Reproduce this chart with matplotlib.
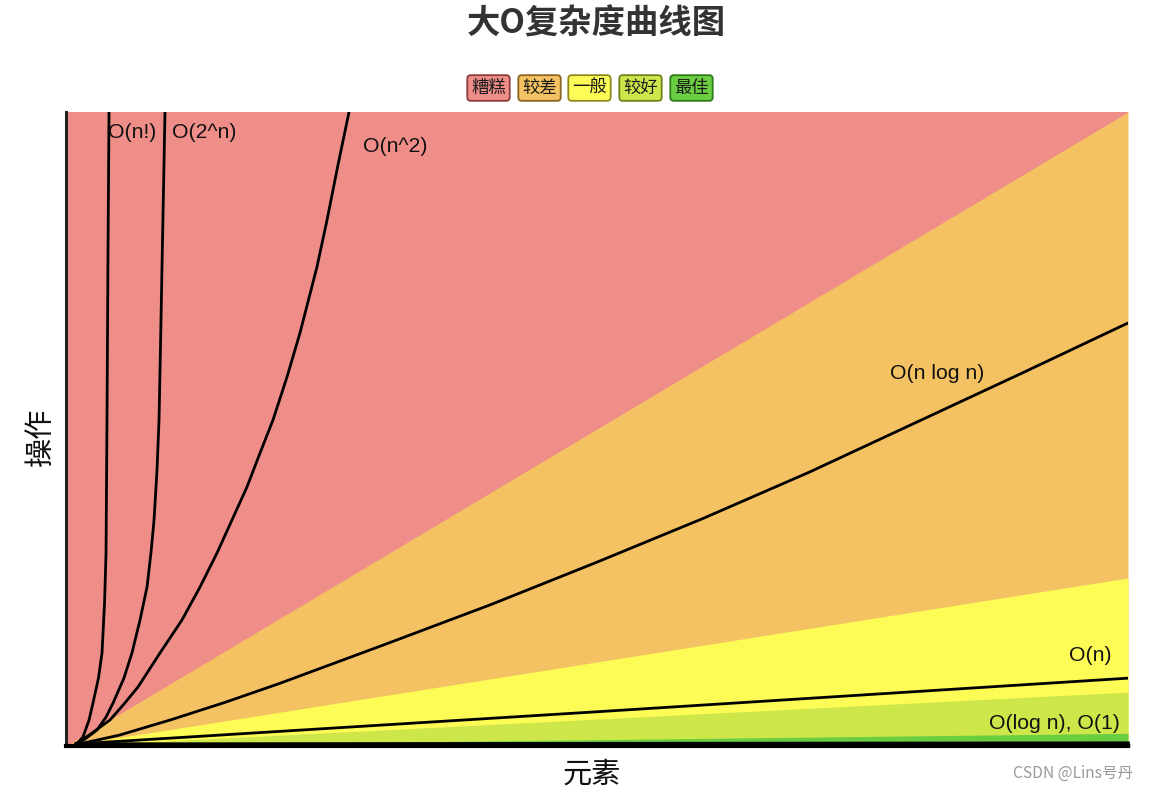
import matplotlib
matplotlib.use("Agg")
import matplotlib.pyplot as plt

plt.rcParams['font.family'] = ['Noto Sans CJK SC', 'DejaVu Sans']

# ---------------- data (axes in % of range) ----------------
title = "大O复杂度曲线图"
x_label = "元素"
y_label = "操作"

legend_labels = ["糟糕", "较差", "一般", "较好", "最佳"]
zone_colors = ["#EF8E89", "#F4C262", "#FDFC56", "#CDE74B", "#6ACE40"]
zone_edges = ["#8C3B36", "#8C6420", "#8C8A1E", "#6E801C", "#2F7A1A"]

# zone boundaries: straight lines from origin, value at x = 100
zone_x = [0, 100]
bound_red_orange = [0, 100.0]
bound_orange_yellow = [0, 26.5]
bound_yellow_lgreen = [0, 8.5]
bound_lgreen_green = [0, 2.0]

# complexity curves
fact_x = [0.94, 1.27, 1.60, 2.17, 2.54, 3.06, 3.39, 3.63, 3.77, 3.86, 3.95, 4.05]
fact_y = [0.32, 0.79, 1.42, 4.10, 6.78, 10.73, 14.67, 22.56, 30.44, 51.42, 76.66, 100.0]

exp_x = [0.94, 1.79, 2.92, 3.77, 4.43, 5.46, 6.21, 6.97, 7.63, 8.00, 8.29, 8.57,
         8.76, 8.90, 9.04, 9.18, 9.32]
exp_y = [0.32, 1.10, 2.52, 4.57, 6.78, 10.73, 14.67, 19.87, 25.08, 30.44, 35.65, 43.53,
         51.42, 63.25, 75.55, 87.70, 100.0]

sq_x = [0.94, 2.45, 4.14, 5.46, 6.78, 8.85, 10.92, 12.62, 14.22, 15.63, 17.04, 18.27,
        19.49, 20.81, 22.03, 23.63, 24.58, 25.61, 26.65]
sq_y = [0.32, 2.05, 4.10, 6.62, 9.31, 14.67, 19.87, 25.08, 30.44, 35.65, 40.85, 46.21,
        51.42, 58.20, 65.14, 75.55, 82.97, 91.64, 100.0]

nlogn_x = [0.94, 2.0, 5.0, 10.0, 15.0, 20.0, 30.0, 40.0, 50.0, 60.0, 70.0, 80.0, 90.0, 100.0]
nlogn_y = [0.32, 0.6, 1.7, 4.2, 6.9, 9.8, 16.0, 22.3, 29.0, 35.9, 43.2, 51.0, 58.8, 66.72]

lin_x = [0.94, 50.0, 100.0]
lin_y = [0.32, 5.4, 10.7]

logn_x = [0.94, 10.0, 40.0, 70.0, 100.0]
logn_y = [0.32, 0.30, 0.35, 0.40, 0.45]

const_x = [0.94, 100.0]
const_y = [0.15, 0.15]

curve_labels = ["O(n!)", "O(2^n)", "O(n^2)", "O(n log n)", "O(n)", "O(log n), O(1)"]
label_pos_x = [3.95, 9.98, 27.97, 82.0, 98.5, 99.25]
label_pos_y = [96.8, 96.8, 94.5, 58.8, 14.2, 3.6]
label_ha = ["left", "left", "left", "center", "right", "right"]

# ---------------- figure ----------------
W, H = 1149, 791
fig = plt.figure(figsize=(W / 100, H / 100), dpi=100)
fig.patch.set_facecolor("white")

ax = fig.add_axes([66 / W, 1 - 746 / H, (1128 - 66) / W, (746 - 112) / H])
ax.set_xlim(0, 100)
ax.set_ylim(0, 100)
ax.set_facecolor(zone_colors[0])

ax.fill_between(zone_x, bound_red_orange, [100, 100], color=zone_colors[0], lw=0)
ax.fill_between(zone_x, 0, bound_red_orange, color=zone_colors[1], lw=0)
ax.fill_between(zone_x, 0, bound_orange_yellow, color=zone_colors[2], lw=0)
ax.fill_between(zone_x, 0, bound_yellow_lgreen, color=zone_colors[3], lw=0)
ax.fill_between(zone_x, 0, bound_lgreen_green, color=zone_colors[4], lw=0)

lw = 2.0
for xs, ys in [(fact_x, fact_y), (exp_x, exp_y), (sq_x, sq_y),
               (nlogn_x, nlogn_y), (lin_x, lin_y)]:
    ax.plot(xs, ys, color="black", lw=lw, solid_capstyle="round", solid_joinstyle="round")
ax.plot(logn_x, logn_y, color="black", lw=2.5, clip_on=False)
ax.plot(const_x, const_y, color="black", lw=2.5, clip_on=False)

for t, lx, ly, ha in zip(curve_labels, label_pos_x, label_pos_y, label_ha):
    ax.text(lx, ly, t, ha=ha, va="center", fontsize=15.3,
            family=["Liberation Sans", "DejaVu Sans"], color="#111111")

ax.set_xticks([])
ax.set_yticks([])
for s in ["top", "right"]:
    ax.spines[s].set_visible(False)
ax.spines["left"].set_linewidth(2.2)
ax.spines["left"].set_color("#222222")
ax.spines["bottom"].set_linewidth(3.0)
ax.spines["bottom"].set_color("black")

ax.set_xlabel(x_label, fontsize=21, color="#111111", style="italic")
ax.set_ylabel(y_label, fontsize=21, color="#111111", style="italic")
ax.xaxis.set_label_coords((592 - 66) / 1062, (746 - 760) / 634)
ax.yaxis.set_label_coords((56 - 66) / 1062, (746 - 437) / 634)

fig.text(596 / W, 1 - 24 / H, title, ha="center", va="center",
         fontsize=24, fontweight="bold", color="#333333")

# legend boxes
leg_cx = [488.5, 539.5, 589.5, 640.5, 691.5]
for lab, c, e, cx in zip(legend_labels, zone_colors, zone_edges, leg_cx):
    fig.text(cx / W, 1 - 88 / H, lab, ha="center", va="center", fontsize=12.5,
             color="#1a1a1a",
             bbox=dict(boxstyle="round,pad=0.22,rounding_size=0.2", fc=c, ec=e, lw=1.3))

fig.text(1133 / W, 1 - 773 / H, "CSDN @Lins号丹", ha="right", va="center",
         fontsize=11.2, color="#9a9a9a")

fig.savefig("out.png", dpi=100)
